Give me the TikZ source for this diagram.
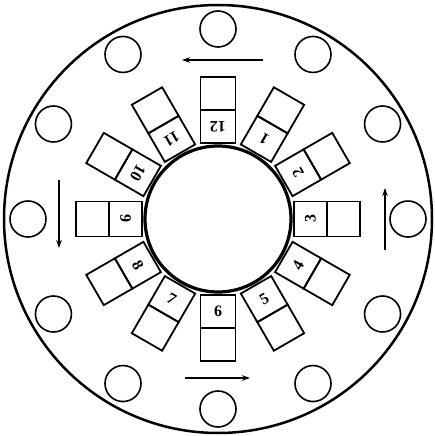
\documentclass[tikz,border=0pt]{standalone}
\usepackage{fontspec}
\setmainfont{Liberation Serif}
\usetikzlibrary{arrows.meta}
\begin{document}
\begin{tikzpicture}[x=1pt,y=1pt,
  cell/.style={draw, line width=1.8pt, minimum width=35pt, minimum height=33pt, inner sep=0pt},
  num/.style={inner sep=0pt, font=\fontsize{16}{16}\selectfont\bfseries},
  seat/.style={draw, circle, line width=1.6pt, minimum size=36pt, inner sep=0pt},
  flow/.style={line width=1.3pt, -{Stealth[length=8pt,width=5.5pt]}}]
\useasboundingbox (-218,-217) rectangle (216,219);
\node[draw,circle,line width=2.5pt,minimum size=428pt,inner sep=0pt] (outer) at (0,0) {};
\foreach \k in {1,...,12}{
  \pgfmathsetmacro\th{90-30*\k}
  \node[cell, rotate=\th+90] (in\k) at (\th:92.5) {};
  \node[num, rotate=\th+90] (n\k) at (in\k.center) {\k};
  \node[cell, rotate=\th+90] (out\k) at (\th:125.5) {};
  \node[seat] (s\k) at (\th:190) {};
}
\node[draw,circle,fill=white,line width=3.2pt,minimum size=146pt,inner sep=0pt] (hub) at (0,0) {};
\coordinate (t1) at (45,159);   \coordinate (t2) at (-36,159);
\coordinate (b1) at (-33,-159); \coordinate (b2) at (32,-159);
\coordinate (l1) at (-159,39);  \coordinate (l2) at (-159,-29);
\coordinate (r1) at (167,-31);  \coordinate (r2) at (167,31);
\draw[flow] (t1) -- (t2);
\draw[flow] (b1) -- (b2);
\draw[flow] (l1) -- (l2);
\draw[flow] (r1) -- (r2);
\end{tikzpicture}
\end{document}
